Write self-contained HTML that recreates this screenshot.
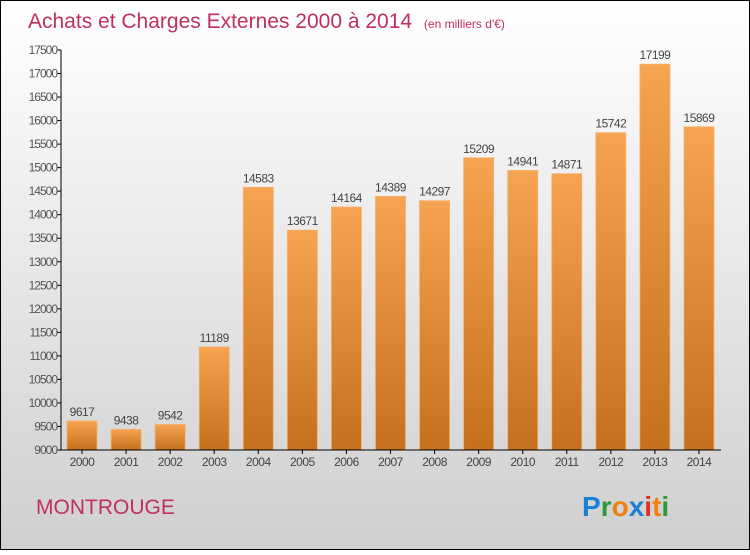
<!DOCTYPE html>
<html><head><meta charset="utf-8"><style>
body{margin:0;width:750px;height:550px;overflow:hidden;font-family:"Liberation Sans",sans-serif}
</style></head><body>
<svg width="750" height="550" viewBox="0 0 750 550">
<defs>
<linearGradient id="bg" x1="0" y1="0" x2="0" y2="1"><stop offset="0" stop-color="#ffffff"/><stop offset="1" stop-color="#cfcfcf"/></linearGradient>
<linearGradient id="bar" x1="0" y1="0" x2="0" y2="1"><stop offset="0" stop-color="#f7a452"/><stop offset="1" stop-color="#c4701c"/></linearGradient>
</defs>
<rect x="0.5" y="0.5" width="749" height="549" fill="url(#bg)" stroke="#000"/>
<text x="28" y="28" font-size="21" fill="#c0305a">Achats et Charges Externes 2000 à 2014 <tspan font-size="12" dx="6">(en milliers d'€)</tspan></text>
<g id="yaxis"></g><g id="bars"></g><g id="xaxis"></g>
<text x="36" y="514" font-size="21" fill="#c0305a">MONTROUGE</text>
<g font-size="28" font-weight="bold">
<text x="582" y="516"><tspan fill="#1a7fd6">P</tspan><tspan fill="#2a9a3a">r</tspan><tspan fill="#f08010">o</tspan><tspan fill="#1a7fd6">x</tspan><tspan fill="#e03020">i</tspan><tspan fill="#f08010">t</tspan><tspan fill="#2a9a3a">i</tspan></text>
</g>
</svg>
<script>
const years=["2000","2001","2002","2003","2004","2005","2006","2007","2008","2009","2010","2011","2012","2013","2014"];
const values=[9617,9438,9542,11189,14583,13671,14164,14389,14297,15209,14941,14871,15742,17199,15869];
const ticks=[9000,9500,10000,10500,11000,11500,12000,12500,13000,13500,14000,14500,15000,15500,16000,16500,17000,17500];
const NS="http://www.w3.org/2000/svg";
const y=v=>450-(v-9000)/8500*400;
const x=i=>82+i*44.07;
function mk(tag,attrs,parent,txt){const e=document.createElementNS(NS,tag);for(const k in attrs)e.setAttribute(k,attrs[k]);if(txt!==undefined)e.textContent=txt;parent.appendChild(e);return e;}
const ya=document.getElementById('yaxis'),ba=document.getElementById('bars'),xa=document.getElementById('xaxis');
let l=mk('line',{x1:61,y1:50,x2:61,y2:450,stroke:'#000'},ya);


ticks.forEach(t=>{
 const tk=mk('line',{x1:57,x2:61,y1:y(t),y2:y(t),stroke:'#000'},ya);
 
 
 const tx=mk('text',{x:57,y:y(t)+4,'font-size':12,fill:'#555','text-anchor':'end','letter-spacing':'-1'},ya,t);
 
 
});
values.forEach((v,i)=>{
 const r=mk('rect',{x:x(i)-15,y:y(v),width:30,height:450-y(v),fill:'url(#bar)',stroke:'#f5b070','stroke-width':0.8},ba);
 
 
 const t=mk('text',{x:x(i),y:y(v)-5,'font-size':12,fill:'#444','text-anchor':'middle','letter-spacing':'-0.5'},ba,v);
 
 
 const tk=mk('line',{x1:x(i),x2:x(i),y1:450,y2:454,stroke:'#000'},xa);
 
 
 const xl=mk('text',{x:x(i),y:466,'font-size':12,fill:'#444','text-anchor':'middle','letter-spacing':'-0.5'},xa,years[i]);
 
 
});
const xl=mk('line',{x1:61,x2:721,y1:450,y2:450,stroke:'#000'},xa);


</script>
</body></html>
